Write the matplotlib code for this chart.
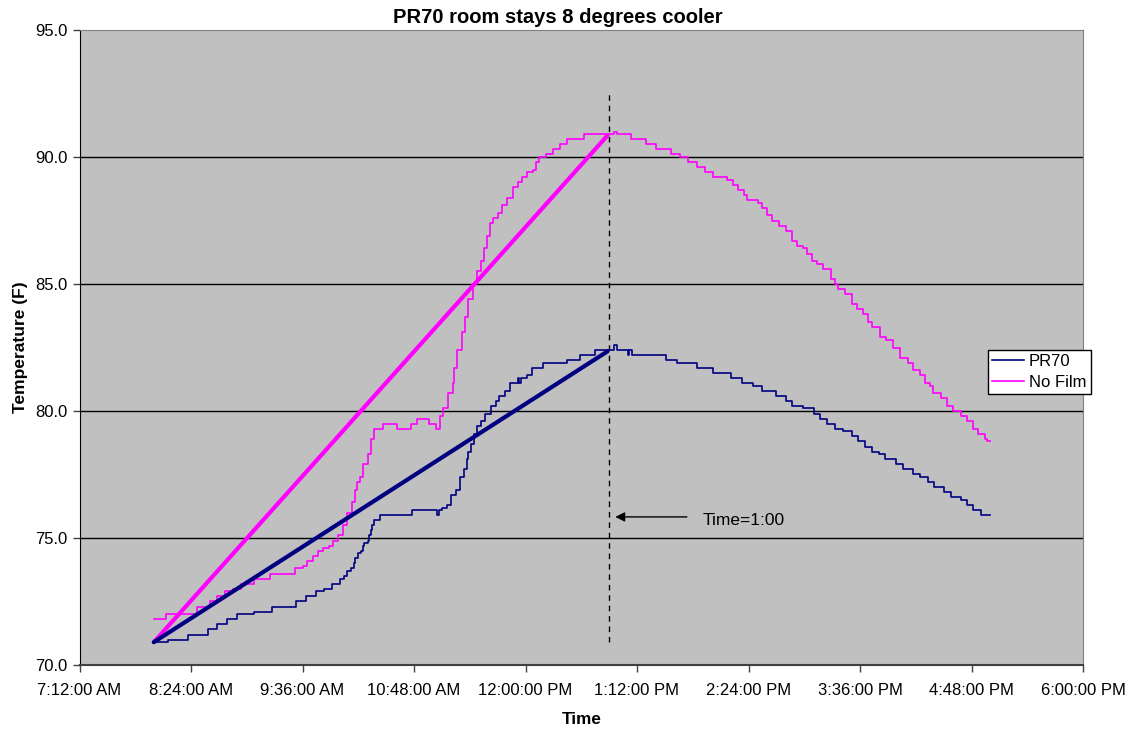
import matplotlib
matplotlib.use("Agg")
import matplotlib.pyplot as plt
import matplotlib.dates as mdates
from datetime import datetime, timedelta

plt.rcParams['font.family'] = ['Liberation Sans', 'DejaVu Sans']

# ---------------- data ----------------
pr70_times = ["8:00", "8:09", "8:22", "8:35", "8:41", "8:47", "8:54", "9:05", "9:16", "9:32",
              "9:38", "9:45", "9:50", "9:55", "10:00", "10:03", "10:05", "10:07", "10:09", "10:10",
              "10:12", "10:14", "10:15", "10:16", "10:18", "10:19", "10:20", "10:21", "10:22", "10:26",
              "10:47", "11:03", "11:04", "11:06", "11:09", "11:12", "11:15", "11:18", "11:20", "11:22",
              "11:23", "11:25", "11:27", "11:29", "11:31", "11:34", "11:38", "11:41", "11:43", "11:47",
              "11:50", "11:55", "11:56", "11:57", "12:01", "12:04", "12:11", "12:27", "12:35", "12:45",
              "12:57", "12:59", "13:06", "13:07", "13:09", "13:31", "13:38", "13:51", "14:01", "14:13",
              "14:20", "14:27", "14:33", "14:42", "14:48", "14:52", "14:59", "15:06", "15:10", "15:15",
              "15:20", "15:25", "15:31", "15:35", "15:39", "15:44", "15:48", "15:52", "15:59", "16:04",
              "16:10", "16:15", "16:20", "16:24", "16:30", "16:35", "16:41", "16:45", "16:49", "16:54",
              "17:00"]
pr70_temps = [70.9, 71.0, 71.2, 71.4, 71.6, 71.8, 72.0, 72.1, 72.3, 72.5,
              72.7, 72.9, 73.0, 73.2, 73.4, 73.5, 73.7, 73.8, 74.0, 74.2,
              74.4, 74.5, 74.7, 74.8, 74.9, 75.1, 75.3, 75.5, 75.7, 75.9,
              76.1, 75.9, 76.1, 76.2, 76.3, 76.7, 76.9, 77.4, 77.7, 78.1,
              78.4, 78.7, 79.1, 79.4, 79.6, 79.9, 80.2, 80.4, 80.6, 80.8,
              81.1, 81.3, 81.1, 81.3, 81.4, 81.7, 81.9, 82.0, 82.2, 82.4,
              82.6, 82.4, 82.2, 82.4, 82.2, 82.0, 81.9, 81.7, 81.5, 81.3,
              81.1, 81.0, 80.8, 80.6, 80.4, 80.2, 80.1, 79.9, 79.7, 79.5,
              79.3, 79.2, 79.0, 78.8, 78.6, 78.4, 78.3, 78.1, 77.9, 77.7,
              77.5, 77.4, 77.2, 77.0, 76.8, 76.6, 76.5, 76.3, 76.1, 75.9,
              75.9]

nofilm_times = ["8:00", "8:08", "8:28", "8:36", "8:41", "8:46", "8:51", "8:56", "9:05", "9:15",
                "9:31", "9:36", "9:39", "9:43", "9:46", "9:49", "9:53", "9:56", "9:59", "10:02",
                "10:05", "10:08", "10:10", "10:11", "10:13", "10:15", "10:18", "10:20", "10:22", "10:28",
                "10:37", "10:46", "10:50", "10:58", "11:02", "11:05", "11:07", "11:10", "11:13", "11:14",
                "11:16", "11:19", "11:21", "11:23", "11:26", "11:29", "11:31", "11:33", "11:35", "11:37",
                "11:39", "11:42", "11:45", "11:48", "11:52", "11:55", "11:58", "12:01", "12:05", "12:07",
                "12:09", "12:13", "12:18", "12:22", "12:27", "12:38", "12:57", "12:59", "13:08", "13:18",
                "13:24", "13:34", "13:40", "13:45", "13:51", "13:56", "14:01", "14:10", "14:14", "14:17",
                "14:21", "14:23", "14:30", "14:33", "14:36", "14:39", "14:44", "14:48", "14:52", "14:55",
                "14:59", "15:02", "15:05", "15:08", "15:12", "15:17", "15:20", "15:22", "15:26", "15:31",
                "15:34", "15:38", "15:41", "15:44", "15:49", "15:53", "15:57", "16:02", "16:07", "16:10",
                "16:15", "16:18", "16:21", "16:23", "16:28", "16:32", "16:36", "16:41", "16:45", "16:49",
                "16:52", "16:57", "16:58", "17:00"]
nofilm_temps = [71.8, 72.0, 72.3, 72.5, 72.7, 72.9, 73.0, 73.2, 73.4, 73.6,
                73.8, 73.9, 74.1, 74.3, 74.5, 74.6, 74.7, 74.9, 75.1, 75.5,
                76.0, 76.4, 76.9, 77.2, 77.4, 77.9, 78.3, 78.9, 79.3, 79.5,
                79.3, 79.5, 79.7, 79.5, 79.3, 79.8, 80.1, 80.7, 81.1, 81.7,
                82.4, 83.1, 83.7, 84.4, 85.0, 85.5, 85.9, 86.4, 86.9, 87.4,
                87.6, 87.8, 88.1, 88.4, 88.8, 89.0, 89.2, 89.4, 89.5, 89.8,
                90.0, 90.1, 90.3, 90.5, 90.7, 90.9, 91.0, 90.9, 90.7, 90.5,
                90.3, 90.1, 90.0, 89.8, 89.6, 89.4, 89.2, 89.1, 88.9, 88.7,
                88.5, 88.3, 88.2, 88.0, 87.7, 87.5, 87.3, 87.1, 86.7, 86.5,
                86.4, 86.2, 85.9, 85.8, 85.6, 85.2, 85.0, 84.8, 84.6, 84.2,
                84.0, 83.8, 83.5, 83.3, 82.9, 82.8, 82.5, 82.1, 81.9, 81.6,
                81.4, 81.1, 81.0, 80.7, 80.5, 80.2, 80.0, 79.8, 79.6, 79.3,
                79.1, 78.9, 78.8, 78.8]

# straight lines from start to the 1:00 mark
trend_times = ["8:00", "12:53"]
pr70_trend = [70.9, 82.35]
nofilm_trend = [70.9, 90.85]

marker_time = "12:54"
marker_range = [70.9, 92.6]
arrow_start_time = "13:46"
arrow_value = 75.83
note_text = "Time=1:00"

x_ticks = ["7:12", "8:24", "9:36", "10:48", "12:00", "13:12", "14:24", "15:36", "16:48", "18:00"]
y_ticks = [70, 75, 80, 85, 90, 95]

# ---------------- helpers ----------------
base = datetime(2000, 1, 1)

def t(s):
    h, m = s.split(":")
    return base + timedelta(hours=int(h), minutes=int(m))

def ts(lst):
    return [t(s) for s in lst]

# ---------------- figure ----------------
W, H = 1135, 731
fig = plt.figure(figsize=(W / 100, H / 100), dpi=100)
ax = fig.add_axes([79.5 / W, 1 - 665 / H, (1083 - 79.5) / W, (665 - 30) / H])
ax.set_facecolor('#C0C0C0')

navy = '#000080'
pink = '#FF00FF'

ax.plot(ts(pr70_times), pr70_temps, color=navy, lw=1.2, drawstyle='steps-post', label='PR70', zorder=4)
ax.plot(ts(nofilm_times), nofilm_temps, color=pink, lw=1.2, drawstyle='steps-post', label='No Film', zorder=4)
ax.plot(ts(trend_times), nofilm_trend, color=pink, lw=3, solid_capstyle='round', zorder=5)
ax.plot(ts(trend_times), pr70_trend, color=navy, lw=3, solid_capstyle='round', zorder=5)

ax.plot([t(marker_time)] * 2, marker_range, color='black', lw=1, ls=(0, (4, 3.5)), zorder=3)
ax.annotate("", xy=(mdates.date2num(t(marker_time)) + 0.0015, arrow_value),
            xytext=(t(arrow_start_time), arrow_value),
            arrowprops=dict(arrowstyle='-|>', color='black', lw=1, mutation_scale=14), zorder=6)
ax.text(mdates.date2num(t(arrow_start_time)) + 0.006, arrow_value - 0.15, note_text,
        fontsize=12.5, va='center', ha='left', color='black')

ax.set_xlim(t("7:12"), t("18:00"))
ax.set_ylim(70, 95)
ax.set_xticks(ts(x_ticks))
ax.xaxis.set_major_formatter(mdates.DateFormatter('%-I:%M:%S %p'))
ax.set_yticks(y_ticks)
ax.set_yticklabels([f"{v:.1f}" for v in y_ticks])
ax.tick_params(axis='both', labelsize=12, direction='out', length=5, width=1, color='#404040')
ax.tick_params(axis='x', pad=8)

for v in y_ticks[1:-1]:
    ax.axhline(v, color='black', lw=1, zorder=2)

for s in ['top', 'right']:
    ax.spines[s].set_color('#808080')
ax.spines['left'].set_color('black')
ax.spines['bottom'].set_color('#404040')
ax.spines['bottom'].set_linewidth(1.5)

ax.set_title("PR70 room stays 8 degrees cooler", fontsize=14.5, fontweight='bold', pad=5, x=0.477)
ax.set_xlabel("Time", fontsize=12.3, fontweight='bold', labelpad=10)
ax.set_ylabel("Temperature (F)", fontsize=12.5, fontweight='bold', labelpad=5)

leg = ax.legend(loc='upper left', bbox_to_anchor=((988 - 79.5) / (1083 - 79.5), 1 - (350 - 30) / 635),
                fontsize=12, frameon=True, fancybox=False, edgecolor='black', facecolor='white',
                framealpha=1, borderpad=0.25, handlelength=1.9, handletextpad=0.3, labelspacing=0.35,
                borderaxespad=0)
leg.get_frame().set_linewidth(1)
leg.set_zorder(10)

fig.savefig("out.png", dpi=100)
